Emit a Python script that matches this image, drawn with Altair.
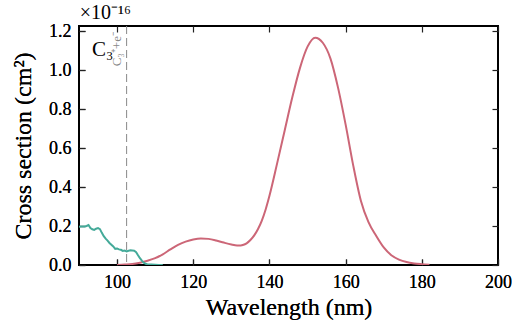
import altair as alt
import pandas as pd

# Photodissociation cross section of C3 (units of 1e-16 cm^2)
diss_nm = [100, 102, 104, 106, 108, 110, 112, 114, 116, 118, 120, 122, 124, 126,
           128, 130, 131, 132, 133, 134, 135, 136, 137, 138, 139, 140, 142, 144,
           146, 148, 150, 152, 154, 156, 158, 160, 162, 164, 166, 168, 170, 172,
           174, 176, 178, 180, 182]
diss_xs = [0.0, 0.002, 0.005, 0.012, 0.022, 0.035, 0.055, 0.08, 0.103, 0.12,
           0.131, 0.136, 0.134, 0.126, 0.115, 0.105, 0.101, 0.100, 0.103, 0.111,
           0.128, 0.152, 0.185, 0.228, 0.285, 0.355, 0.52, 0.69, 0.86, 1.01,
           1.12, 1.166, 1.14, 1.06, 0.91, 0.72, 0.51, 0.33, 0.22, 0.15, 0.09,
           0.05, 0.028, 0.015, 0.008, 0.004, 0.001]

# Photoionisation cross section of C3 (units of 1e-16 cm^2)
ion_nm = [90, 90.5, 91, 91.5, 92, 92.5, 93, 93.5, 94, 94.5, 95, 95.5, 96, 96.5,
          97, 97.5, 98, 98.5, 99, 99.5, 100, 100.5, 101, 101.5, 102, 102.5, 103,
          103.5, 104, 104.5, 105, 105.5, 106, 106.5, 107, 107.5, 108, 109, 110,
          111, 112]
ion_xs = [0.196, 0.197, 0.197, 0.198, 0.2, 0.205, 0.19, 0.183, 0.18, 0.186,
          0.189, 0.184, 0.165, 0.148, 0.135, 0.125, 0.113, 0.104, 0.095, 0.083,
          0.085, 0.08, 0.078, 0.072, 0.074, 0.07, 0.073, 0.075, 0.074, 0.073,
          0.066, 0.05, 0.035, 0.022, 0.012, 0.006, 0.003, 0.002, 0.001, 0.0, 0.0]

threshold_nm = [102.5]
x_ticks = [100, 120, 140, 160, 180, 200]
y_ticks = [0.0, 0.2, 0.4, 0.6, 0.8, 1.0, 1.2]

FONT = "Liberation Serif"
ROSE = "#CC6677"
TEAL = "#44AA99"

diss = pd.DataFrame({"nm": diss_nm, "xs": diss_xs})
ion = pd.DataFrame({"nm": ion_nm, "xs": ion_xs})

xscale = alt.Scale(domain=[90, 200], nice=False, zero=False)
yscale = alt.Scale(domain=[0, 1.226], nice=False)

TICK = 6

x_bottom = alt.Axis(orient="bottom", values=x_ticks, offset=-TICK, tickSize=TICK,
                    domain=False, grid=False, labelPadding=8, format="d",
                    labelFlush=False, title="Wavelength (nm)", titlePadding=4)
y_left = alt.Axis(orient="left", values=y_ticks, offset=-TICK, tickSize=TICK,
                  domain=False, grid=False, labelPadding=8, format=".1f",
                  labelFlush=False, title="Cross section (cm²)", titlePadding=13)
x_top = alt.Axis(orient="top", values=x_ticks, offset=-TICK, tickSize=TICK,
                 domain=False, grid=False, labels=False, title=None)
y_right = alt.Axis(orient="right", values=y_ticks, offset=-TICK, tickSize=TICK,
                   domain=False, grid=False, labels=False, title=None)

diss_line = alt.Chart(diss).mark_line(color=ROSE, strokeWidth=2,
                                      interpolate="monotone", clip=True).encode(
    x=alt.X("nm:Q", scale=xscale, axis=x_bottom),
    y=alt.Y("xs:Q", scale=yscale, axis=y_left),
)

ion_line = alt.Chart(ion).mark_line(color=TEAL, strokeWidth=2, clip=True).encode(
    x=alt.X("nm:Q", scale=xscale, axis=x_bottom),
    y=alt.Y("xs:Q", scale=yscale, axis=y_left),
)

# Mirror axes on top and right (ticks only)
frame_ticks = alt.Chart(diss).mark_line(opacity=0).encode(
    x=alt.X("nm:Q", scale=xscale, axis=x_top),
    y=alt.Y("xs:Q", scale=yscale, axis=y_right),
)

thresh = alt.Chart(pd.DataFrame({"nm": threshold_nm})).mark_rule(
    color="#888888", strokeWidth=1, strokeDash=[8, 4]
).encode(x=alt.X("nm:Q", scale=xscale, axis=None))

thresh_label = alt.Chart(pd.DataFrame({"nm": [100.1], "xs": [1.195], "t": ["C₃⁺+e⁻"]})).mark_text(
    font=FONT, fontSize=13, color="#888888", angle=270, align="right", baseline="middle"
).encode(
    x=alt.X("nm:Q", scale=xscale, axis=None),
    y=alt.Y("xs:Q", scale=yscale, axis=None),
    text="t:N",
)

species = alt.Chart(pd.DataFrame({"nm": [93.4], "xs": [1.105], "t": ["C₃"]})).mark_text(
    font=FONT, fontSize=21, color="black", align="left", baseline="middle"
).encode(
    x=alt.X("nm:Q", scale=xscale, axis=None),
    y=alt.Y("xs:Q", scale=yscale, axis=None),
    text="t:N",
)

# Scale factor of the y axis, sitting just above the frame's top-left corner
multiplier = alt.Chart(pd.DataFrame({"nm": [90.2], "xs": [1.262], "t": ["×10⁻¹⁶"]})).mark_text(
    font=FONT, fontSize=20, color="black", align="left", baseline="alphabetic", clip=False
).encode(
    x=alt.X("nm:Q", scale=xscale, axis=None),
    y=alt.Y("xs:Q", scale=yscale, axis=None),
    text="t:N",
)

chart = alt.layer(
    thresh, diss_line, ion_line, frame_ticks, thresh_label, species, multiplier
).resolve_axis(x="independent", y="independent").properties(
    width=419,
    height=239,
    background="white",
    autosize=alt.AutoSizeParams(type="none"),
    padding={"left": 79, "top": 26, "right": 27, "bottom": 60},
).configure_view(
    stroke="black", strokeWidth=2
).configure_axis(
    labelFont=FONT, labelFontSize=18, labelColor="black",
    titleFont=FONT, titleFontSize=24, titleFontWeight="normal", titleColor="black",
    tickColor="#222222", tickWidth=1.2,
)

chart.save("out.html", embed_options={"renderer": "svg", "actions": False})
